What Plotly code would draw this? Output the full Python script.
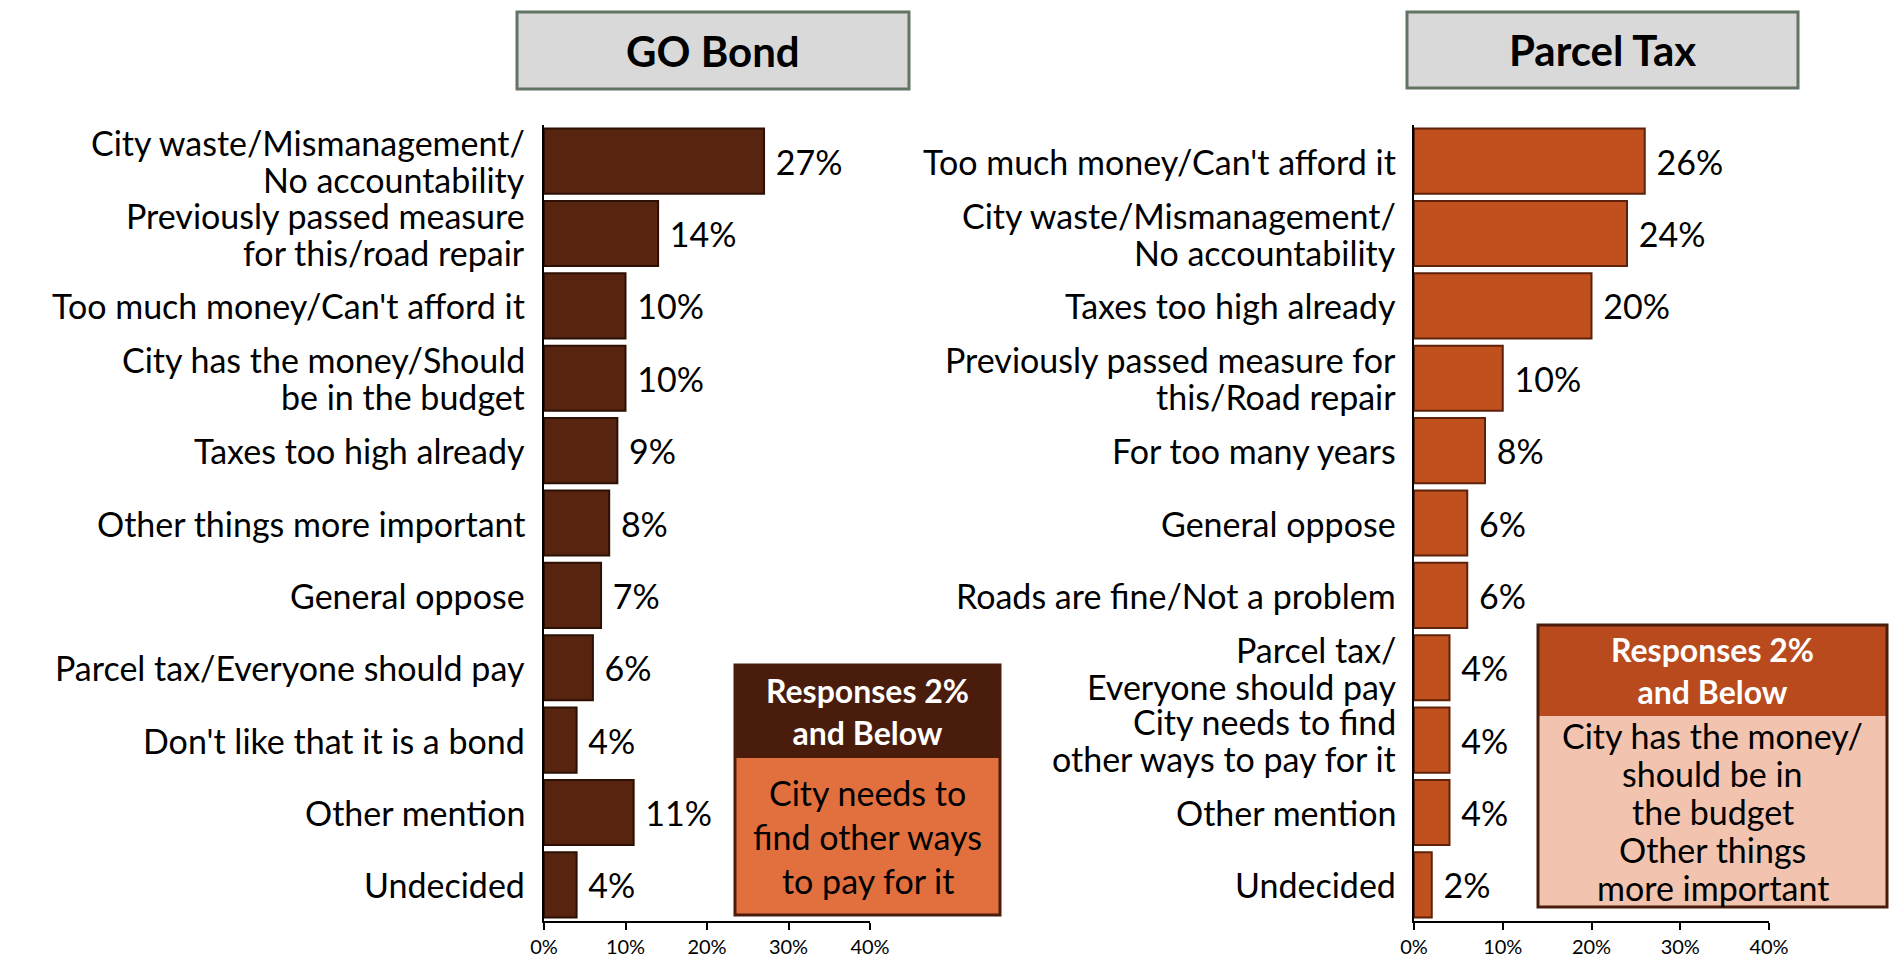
import plotly.graph_objects as go

W, H = 1893, 960

# GO Bond reasons
go_labels = [
    "City waste/Mismanagement/<br>No accountability",
    "Previously passed measure<br>for this/road repair",
    "Too much money/Can't afford it",
    "City has the money/Should<br>be in the budget",
    "Taxes too high already",
    "Other things more important",
    "General oppose",
    "Parcel tax/Everyone should pay",
    "Don't like that it is a bond",
    "Other mention",
    "Undecided",
]
go_values = [27, 14, 10, 10, 9, 8, 7, 6, 4, 11, 4]

# Parcel Tax reasons
pt_labels = [
    "Too much money/Can't afford it",
    "City waste/Mismanagement/<br>No accountability",
    "Taxes too high already",
    "Previously passed measure for<br>this/Road repair",
    "For too many years",
    "General oppose",
    "Roads are fine/Not a problem",
    "Parcel tax/<br>Everyone should pay",
    "City needs to find<br>other ways to pay for it",
    "Other mention",
    "Undecided",
]
pt_values = [26, 24, 20, 10, 8, 6, 6, 4, 4, 4, 2]

# "Responses 2% and Below" lists
go_low = ["City needs to", "find other ways", "to pay for it"]
pt_low = ["City has the money/", "should be in", "the budget", "Other things", "more important"]

x_ticks = [0, 10, 20, 30, 40]
x_tick_text = ["0%", "10%", "20%", "30%", "40%"]

FONT = "Lato"
LBL = 34

def px_x(v):
    return v / W

def px_y(v):
    return 1 - v / H

fig = go.Figure()

fig.add_trace(go.Bar(
    x=go_values, y=go_labels, orientation="h",
    marker=dict(color="#56240f", line=dict(color="#2c1005", width=2)),
    text=["\u00a0" + str(v) + "%" for v in go_values],
    textposition="outside", constraintext="none", cliponaxis=False,
    textfont=dict(size=34, color="black", family=FONT),
    xaxis="x", yaxis="y", showlegend=False,
))
fig.add_trace(go.Bar(
    x=pt_values, y=pt_labels, orientation="h",
    marker=dict(color="#c1501f", line=dict(color="#5e220b", width=2)),
    text=["\u00a0" + str(v) + "%" for v in pt_values],
    textposition="outside", constraintext="none", cliponaxis=False,
    textfont=dict(size=34, color="black", family=FONT),
    xaxis="x2", yaxis="y2", showlegend=False,
))

xa = dict(range=[0, 40], tickvals=x_ticks, ticktext=x_tick_text, showgrid=False, zeroline=False,
          showline=True, linecolor="black", linewidth=2, ticks="outside", ticklen=7,
          tickwidth=2, tickcolor="black", automargin=False,
          tickfont=dict(size=20, family=FONT, color="black"))
ya = dict(showgrid=False, zeroline=False, showline=True, linecolor="black",
          linewidth=2, ticks="", automargin=False, showticklabels=False)

dom_y = [px_y(921), px_y(125)]
fig.update_layout(
    width=W, height=H, margin=dict(l=0, r=0, t=0, b=0),
    paper_bgcolor="white", plot_bgcolor="white", bargap=0.1,
    font=dict(family=FONT, color="black"),
    xaxis=dict(domain=[px_x(544), px_x(870)], anchor="y", **xa),
    yaxis=dict(domain=dom_y, anchor="x", categoryorder="array", categoryarray=go_labels,
               range=[len(go_labels) - 0.5, -0.5], **ya),
    xaxis2=dict(domain=[px_x(1414), px_x(1769)], anchor="y2", **xa),
    yaxis2=dict(domain=dom_y, anchor="x2", categoryorder="array", categoryarray=pt_labels,
                range=[len(pt_labels) - 0.5, -0.5], **ya),
)

shapes = []
annotations = []

def note(x, y, text, size, color, yshift=0):
    annotations.append(dict(xref="paper", yref="paper", x=px_x(x), y=px_y(y), text=text,
                            showarrow=False, xanchor="center", yanchor="middle", yshift=yshift,
                            font=dict(size=size, family=FONT, color=color)))

# category labels, drawn line by line for a tighter line spacing
for labels, yref, xr in [(go_labels, "y", 527), (pt_labels, "y2", 1398)]:
    for k, lab in enumerate(labels):
        lines = lab.split("<br>")
        n = len(lines)
        for i, line in enumerate(lines):
            annotations.append(dict(xref="paper", yref=yref, x=px_x(xr), y=k, text=line,
                                    showarrow=False, xanchor="right", yanchor="middle",
                                    yshift=((n - 1) / 2 - i) * 37,
                                    font=dict(size=LBL, family=FONT, color="black")))

# title boxes
for (x0, x1, y0, y1, title) in [(517, 909, 12, 89, "GO Bond"), (1407, 1798, 12, 88, "Parcel Tax")]:
    shapes.append(dict(type="rect", xref="paper", yref="paper", x0=px_x(x0), x1=px_x(x1),
                       y0=px_y(y1), y1=px_y(y0), fillcolor="#d9d9d9",
                       line=dict(color="#627462", width=3)))
    note((x0 + x1) / 2, (y0 + y1) / 2, "<b>" + title + "</b>", 42, "black")

# "Responses 2% and Below" boxes
boxes = [
    (735, 1000, 665, 758, 915, "#4a1c0c", "#e2703e", go_low, 34, 44),
    (1538, 1887, 625, 716, 907, "#b84a1e", "#f2c3ae", pt_low, 34, 38),
]
for (x0, x1, y0, ym, y1, head, body, lines, fs, step) in boxes:
    shapes.append(dict(type="rect", xref="paper", yref="paper", x0=px_x(x0), x1=px_x(x1),
                       y0=px_y(ym), y1=px_y(y0), fillcolor=head, line=dict(width=0)))
    shapes.append(dict(type="rect", xref="paper", yref="paper", x0=px_x(x0), x1=px_x(x1),
                       y0=px_y(y1), y1=px_y(ym), fillcolor=body, line=dict(width=0)))
    shapes.append(dict(type="rect", xref="paper", yref="paper", x0=px_x(x0), x1=px_x(x1),
                       y0=px_y(y1), y1=px_y(y0), fillcolor="rgba(0,0,0,0)",
                       line=dict(color="#4a1c0c", width=3)))
    note((x0 + x1) / 2, (y0 + ym) / 2, "<b>Responses 2%<br>and Below</b>", 32, "white")
    n = len(lines)
    for i, line in enumerate(lines):
        note((x0 + x1) / 2, (ym + y1) / 2, line, fs, "black", yshift=((n - 1) / 2 - i) * step)

fig.update_layout(shapes=shapes, annotations=annotations)
fig.write_html("out.html", config={"displayModeBar": False},
               post_script="document.body.style.margin = '0px';")
